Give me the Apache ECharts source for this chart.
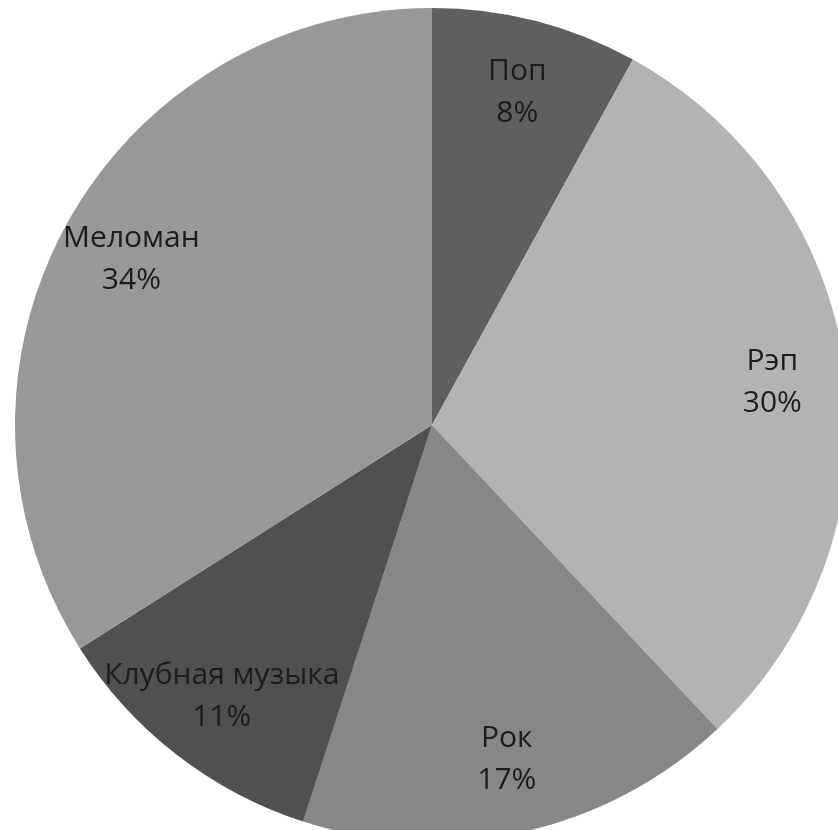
<!DOCTYPE html>
<html>
<head>
<meta charset="utf-8">
<script src="https://cdn.jsdelivr.net/npm/echarts@6/dist/echarts.min.js"></script>
<style>html,body{margin:0;padding:0;background:#fff;}#c{width:838px;height:830px;}</style>
</head>
<body>
<div id="c"></div>
<script>
var categories = ['Поп', 'Рэп', 'Рок', 'Клубная музыка', 'Меломан'];
var values = [8, 30, 17, 11, 34];
var colors = ['#5f5f5f', '#b3b3b3', '#878787', '#505050', '#989898'];

var chart = echarts.init(document.getElementById('c'));
var data = categories.map(function (n, i) {
  return { name: n, value: values[i], itemStyle: { color: colors[i] } };
});
var labelData = categories.map(function (n, i) {
  return { name: n, value: values[i] };
});
chart.setOption({
  animation: false,
  series: [
    {
      type: 'pie',
      center: [432, 425],
      radius: [0, 417],
      startAngle: 90,
      clockwise: true,
      silent: true,
      label: { show: false },
      labelLine: { show: false },
      itemStyle: { borderWidth: 0 },
      data: data
    },
    {
      type: 'pie',
      center: [432, 425],
      radius: [263, 417],
      startAngle: 90,
      clockwise: true,
      silent: true,
      itemStyle: { color: 'rgba(0,0,0,0)', borderWidth: 0 },
      label: {
        show: true,
        position: 'inside',
        formatter: '{b}\n{c}%',
        fontFamily: 'Open Sans',
        fontSize: 30,
        lineHeight: 42,
        color: '#1c1c1c'
      },
      labelLine: { show: false },
      data: labelData
    }
  ]
});
</script>
</body>
</html>
